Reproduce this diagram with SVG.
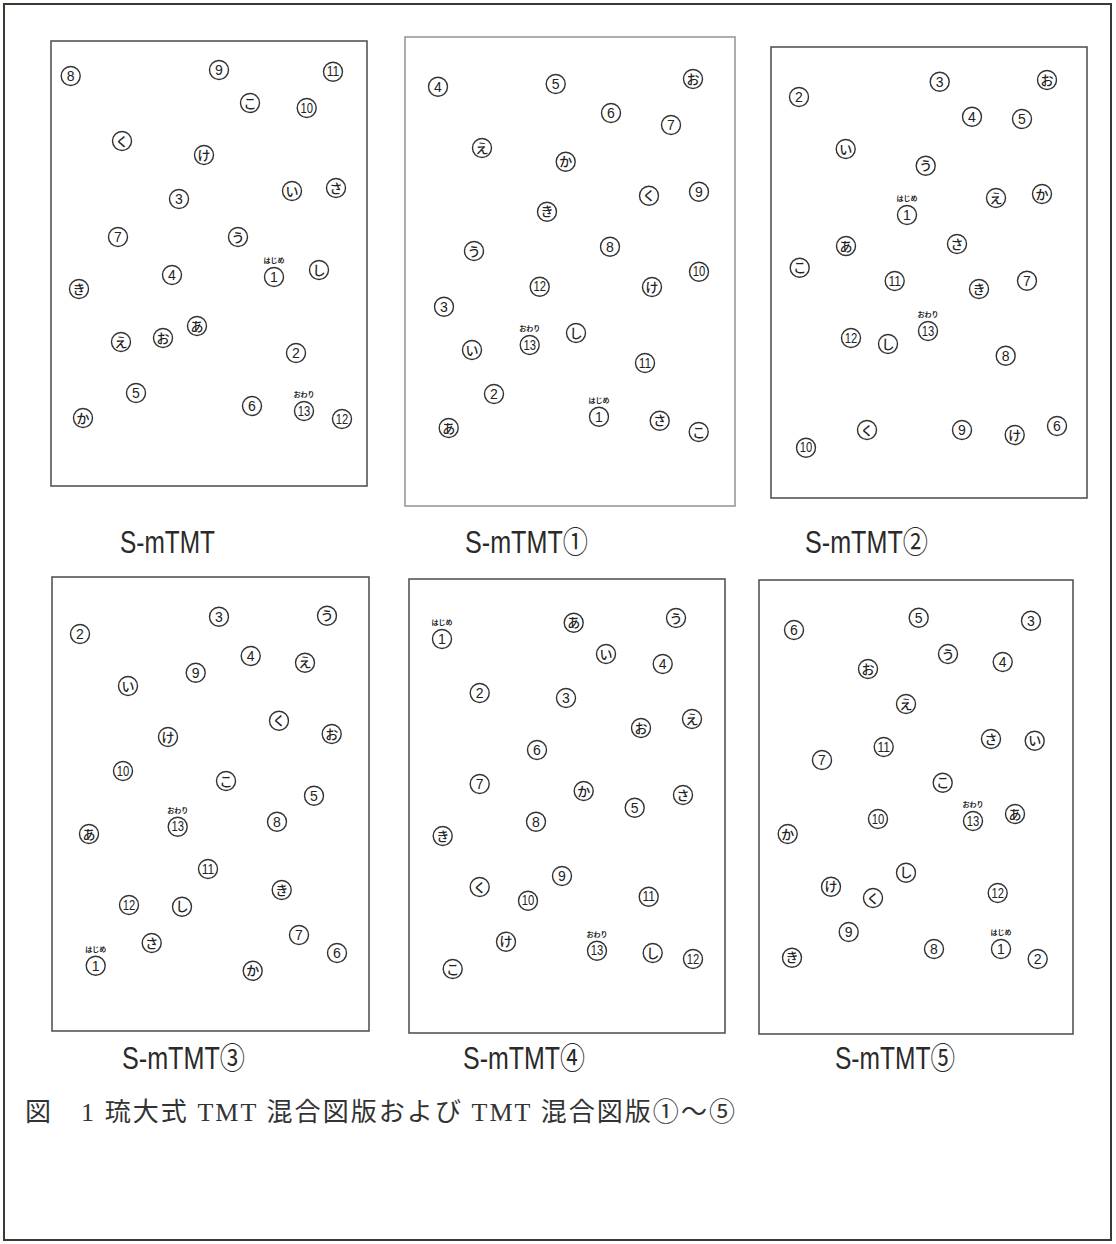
<svg xmlns="http://www.w3.org/2000/svg" width="1116" height="1244" viewBox="0 0 1116 1244">
<style>
.bg{fill:#ffffff}
.outer{fill:none;stroke:#3a3a32;stroke-width:2}
.frame{fill:#ffffff;stroke:#555555;stroke-width:1.6}
.frame.light{stroke:#9a9a9a}
.n circle{fill:#ffffff;stroke:#333333;stroke-width:1.4}
.n text{font-family:"Liberation Sans","Noto Sans CJK JP",sans-serif;font-size:14px;fill:#222222;text-anchor:middle}
.n text.k{font-family:"Noto Sans CJK JP",sans-serif;font-size:13px;font-weight:500}
.n text.s{font-family:"Noto Sans CJK JP",sans-serif;font-size:7px;font-weight:bold}
.lbl{font-family:"Liberation Sans","Noto Sans CJK JP",sans-serif;font-size:31px;fill:#2a2a2a}
.cap{font-family:"Liberation Serif","Noto Sans CJK JP",serif;font-size:26px;fill:#333333}
</style>
<rect class="bg" x="0" y="0" width="1116" height="1244"/>
<rect class="outer" x="4" y="4" width="1107" height="1236"/>

<g id="panel1">
<rect class="frame" x="51" y="41" width="316" height="445"/>
<g id="p1-8" class="n" transform="translate(70.7,76)"><circle r="9.5"/><text y="5">8</text></g>
<g id="p1-9" class="n" transform="translate(219,70)"><circle r="9.5"/><text y="5">9</text></g>
<g id="p1-11" class="n" transform="translate(333,71.7)"><circle r="9.5"/><text y="4.5" font-size="13" textLength="12.5" lengthAdjust="spacingAndGlyphs">11</text></g>
<g id="p1-ko" class="n" transform="translate(250,103)"><circle r="9.5"/><text class="k" y="4.7">こ</text></g>
<g id="p1-10" class="n" transform="translate(306.7,108)"><circle r="9.5"/><text y="4.5" font-size="13" textLength="12.5" lengthAdjust="spacingAndGlyphs">10</text></g>
<g id="p1-ku" class="n" transform="translate(122,141)"><circle r="9.5"/><text class="k" y="4.7">く</text></g>
<g id="p1-ke" class="n" transform="translate(204,155)"><circle r="9.5"/><text class="k" y="4.7">け</text></g>
<g id="p1-3" class="n" transform="translate(179,199)"><circle r="9.5"/><text y="5">3</text></g>
<g id="p1-i" class="n" transform="translate(292,191)"><circle r="9.5"/><text class="k" y="4.7">い</text></g>
<g id="p1-sa" class="n" transform="translate(336,188)"><circle r="9.5"/><text class="k" y="4.7">さ</text></g>
<g id="p1-7" class="n" transform="translate(118,237)"><circle r="9.5"/><text y="5">7</text></g>
<g id="p1-u" class="n" transform="translate(238,237)"><circle r="9.5"/><text class="k" y="4.7">う</text></g>
<g id="p1-4" class="n" transform="translate(172,275)"><circle r="9.5"/><text y="5">4</text></g>
<g id="p1-1" class="n" transform="translate(274,277)"><text class="s" y="-14">はじめ</text><circle r="9.5"/><text y="5">1</text></g>
<g id="p1-shi" class="n" transform="translate(319,270)"><circle r="9.5"/><text class="k" y="4.7">し</text></g>
<g id="p1-ki" class="n" transform="translate(79,289)"><circle r="9.5"/><text class="k" y="4.7">き</text></g>
<g id="p1-a" class="n" transform="translate(197,326)"><circle r="9.5"/><text class="k" y="4.7">あ</text></g>
<g id="p1-o" class="n" transform="translate(163,338)"><circle r="9.5"/><text class="k" y="4.7">お</text></g>
<g id="p1-e" class="n" transform="translate(121,342)"><circle r="9.5"/><text class="k" y="4.7">え</text></g>
<g id="p1-2" class="n" transform="translate(296,353)"><circle r="9.5"/><text y="5">2</text></g>
<g id="p1-5" class="n" transform="translate(136,393)"><circle r="9.5"/><text y="5">5</text></g>
<g id="p1-6" class="n" transform="translate(252,406)"><circle r="9.5"/><text y="5">6</text></g>
<g id="p1-13" class="n" transform="translate(304,411)"><text class="s" y="-14">おわり</text><circle r="9.5"/><text y="4.5" font-size="13" textLength="12.5" lengthAdjust="spacingAndGlyphs">13</text></g>
<g id="p1-12" class="n" transform="translate(342,419)"><circle r="9.5"/><text y="4.5" font-size="13" textLength="12.5" lengthAdjust="spacingAndGlyphs">12</text></g>
<g id="p1-ka" class="n" transform="translate(83,418)"><circle r="9.5"/><text class="k" y="4.7">か</text></g>
</g>

<g id="panel2">
<rect class="frame light" x="405" y="37" width="330" height="469"/>
<g id="p2-4" class="n" transform="translate(438,86.7)"><circle r="9.5"/><text y="5">4</text></g>
<g id="p2-5" class="n" transform="translate(555.7,84)"><circle r="9.5"/><text y="5">5</text></g>
<g id="p2-o" class="n" transform="translate(693,79)"><circle r="9.5"/><text class="k" y="4.7">お</text></g>
<g id="p2-6" class="n" transform="translate(611,113)"><circle r="9.5"/><text y="5">6</text></g>
<g id="p2-7" class="n" transform="translate(671,125)"><circle r="9.5"/><text y="5">7</text></g>
<g id="p2-e" class="n" transform="translate(482,148)"><circle r="9.5"/><text class="k" y="4.7">え</text></g>
<g id="p2-ka" class="n" transform="translate(565.7,161.7)"><circle r="9.5"/><text class="k" y="4.7">か</text></g>
<g id="p2-ku" class="n" transform="translate(649,195.7)"><circle r="9.5"/><text class="k" y="4.7">く</text></g>
<g id="p2-9" class="n" transform="translate(699,191.7)"><circle r="9.5"/><text y="5">9</text></g>
<g id="p2-ki" class="n" transform="translate(547,211.7)"><circle r="9.5"/><text class="k" y="4.7">き</text></g>
<g id="p2-u" class="n" transform="translate(474,251)"><circle r="9.5"/><text class="k" y="4.7">う</text></g>
<g id="p2-8" class="n" transform="translate(610,246.7)"><circle r="9.5"/><text y="5">8</text></g>
<g id="p2-10" class="n" transform="translate(699,271.7)"><circle r="9.5"/><text y="4.5" font-size="13" textLength="12.5" lengthAdjust="spacingAndGlyphs">10</text></g>
<g id="p2-12" class="n" transform="translate(539.7,286.7)"><circle r="9.5"/><text y="4.5" font-size="13" textLength="12.5" lengthAdjust="spacingAndGlyphs">12</text></g>
<g id="p2-ke" class="n" transform="translate(652,287)"><circle r="9.5"/><text class="k" y="4.7">け</text></g>
<g id="p2-3" class="n" transform="translate(444,306.7)"><circle r="9.5"/><text y="5">3</text></g>
<g id="p2-shi" class="n" transform="translate(576,333)"><circle r="9.5"/><text class="k" y="4.7">し</text></g>
<g id="p2-13" class="n" transform="translate(529.7,345)"><text class="s" y="-14">おわり</text><circle r="9.5"/><text y="4.5" font-size="13" textLength="12.5" lengthAdjust="spacingAndGlyphs">13</text></g>
<g id="p2-i" class="n" transform="translate(472,350)"><circle r="9.5"/><text class="k" y="4.7">い</text></g>
<g id="p2-11" class="n" transform="translate(645,363)"><circle r="9.5"/><text y="4.5" font-size="13" textLength="12.5" lengthAdjust="spacingAndGlyphs">11</text></g>
<g id="p2-2" class="n" transform="translate(494,394)"><circle r="9.5"/><text y="5">2</text></g>
<g id="p2-1" class="n" transform="translate(599,416.7)"><text class="s" y="-14">はじめ</text><circle r="9.5"/><text y="5">1</text></g>
<g id="p2-a" class="n" transform="translate(448.7,428)"><circle r="9.5"/><text class="k" y="4.7">あ</text></g>
<g id="p2-sa" class="n" transform="translate(659.7,420.7)"><circle r="9.5"/><text class="k" y="4.7">さ</text></g>
<g id="p2-ko" class="n" transform="translate(698.7,432)"><circle r="9.5"/><text class="k" y="4.7">こ</text></g>
</g>

<g id="panel3">
<rect class="frame" x="771" y="47" width="316" height="451"/>
<g id="p3-2" class="n" transform="translate(799,97)"><circle r="9.5"/><text y="5">2</text></g>
<g id="p3-3" class="n" transform="translate(939.7,81.7)"><circle r="9.5"/><text y="5">3</text></g>
<g id="p3-o" class="n" transform="translate(1047,80)"><circle r="9.5"/><text class="k" y="4.7">お</text></g>
<g id="p3-4" class="n" transform="translate(972,116.7)"><circle r="9.5"/><text y="5">4</text></g>
<g id="p3-5" class="n" transform="translate(1022,119)"><circle r="9.5"/><text y="5">5</text></g>
<g id="p3-i" class="n" transform="translate(845.7,149)"><circle r="9.5"/><text class="k" y="4.7">い</text></g>
<g id="p3-u" class="n" transform="translate(925.7,165.7)"><circle r="9.5"/><text class="k" y="4.7">う</text></g>
<g id="p3-1" class="n" transform="translate(907,215)"><text class="s" y="-14">はじめ</text><circle r="9.5"/><text y="5">1</text></g>
<g id="p3-e" class="n" transform="translate(996,198)"><circle r="9.5"/><text class="k" y="4.7">え</text></g>
<g id="p3-ka" class="n" transform="translate(1042,194)"><circle r="9.5"/><text class="k" y="4.7">か</text></g>
<g id="p3-a" class="n" transform="translate(846,246)"><circle r="9.5"/><text class="k" y="4.7">あ</text></g>
<g id="p3-sa" class="n" transform="translate(957,244)"><circle r="9.5"/><text class="k" y="4.7">さ</text></g>
<g id="p3-ko" class="n" transform="translate(799.7,267.7)"><circle r="9.5"/><text class="k" y="4.7">こ</text></g>
<g id="p3-11" class="n" transform="translate(894.7,281)"><circle r="9.5"/><text y="4.5" font-size="13" textLength="12.5" lengthAdjust="spacingAndGlyphs">11</text></g>
<g id="p3-ki" class="n" transform="translate(979,289)"><circle r="9.5"/><text class="k" y="4.7">き</text></g>
<g id="p3-7" class="n" transform="translate(1027,280.7)"><circle r="9.5"/><text y="5">7</text></g>
<g id="p3-13" class="n" transform="translate(928,331)"><text class="s" y="-14">おわり</text><circle r="9.5"/><text y="4.5" font-size="13" textLength="12.5" lengthAdjust="spacingAndGlyphs">13</text></g>
<g id="p3-12" class="n" transform="translate(851,338)"><circle r="9.5"/><text y="4.5" font-size="13" textLength="12.5" lengthAdjust="spacingAndGlyphs">12</text></g>
<g id="p3-shi" class="n" transform="translate(888,344)"><circle r="9.5"/><text class="k" y="4.7">し</text></g>
<g id="p3-8" class="n" transform="translate(1005.7,355.7)"><circle r="9.5"/><text y="5">8</text></g>
<g id="p3-ku" class="n" transform="translate(867,430)"><circle r="9.5"/><text class="k" y="4.7">く</text></g>
<g id="p3-9" class="n" transform="translate(962,430)"><circle r="9.5"/><text y="5">9</text></g>
<g id="p3-ke" class="n" transform="translate(1014.7,435)"><circle r="9.5"/><text class="k" y="4.7">け</text></g>
<g id="p3-6" class="n" transform="translate(1057,426)"><circle r="9.5"/><text y="5">6</text></g>
<g id="p3-10" class="n" transform="translate(806,447.7)"><circle r="9.5"/><text y="4.5" font-size="13" textLength="12.5" lengthAdjust="spacingAndGlyphs">10</text></g>
</g>

<g id="panel4">
<rect class="frame" x="52" y="577" width="317" height="454"/>
<g id="p4-2" class="n" transform="translate(80,634)"><circle r="9.5"/><text y="5">2</text></g>
<g id="p4-3" class="n" transform="translate(219,616.7)"><circle r="9.5"/><text y="5">3</text></g>
<g id="p4-u" class="n" transform="translate(327,615.7)"><circle r="9.5"/><text class="k" y="4.7">う</text></g>
<g id="p4-4" class="n" transform="translate(250.7,656)"><circle r="9.5"/><text y="5">4</text></g>
<g id="p4-e" class="n" transform="translate(305,662.7)"><circle r="9.5"/><text class="k" y="4.7">え</text></g>
<g id="p4-9" class="n" transform="translate(195.7,672.7)"><circle r="9.5"/><text y="5">9</text></g>
<g id="p4-i" class="n" transform="translate(128,686)"><circle r="9.5"/><text class="k" y="4.7">い</text></g>
<g id="p4-ku" class="n" transform="translate(279,720.7)"><circle r="9.5"/><text class="k" y="4.7">く</text></g>
<g id="p4-o" class="n" transform="translate(331.7,734)"><circle r="9.5"/><text class="k" y="4.7">お</text></g>
<g id="p4-ke" class="n" transform="translate(168,737)"><circle r="9.5"/><text class="k" y="4.7">け</text></g>
<g id="p4-10" class="n" transform="translate(123,771)"><circle r="9.5"/><text y="4.5" font-size="13" textLength="12.5" lengthAdjust="spacingAndGlyphs">10</text></g>
<g id="p4-ko" class="n" transform="translate(226,781)"><circle r="9.5"/><text class="k" y="4.7">こ</text></g>
<g id="p4-5" class="n" transform="translate(314,795.7)"><circle r="9.5"/><text y="5">5</text></g>
<g id="p4-13" class="n" transform="translate(177.7,826.7)"><text class="s" y="-14">おわり</text><circle r="9.5"/><text y="4.5" font-size="13" textLength="12.5" lengthAdjust="spacingAndGlyphs">13</text></g>
<g id="p4-8" class="n" transform="translate(277,821.7)"><circle r="9.5"/><text y="5">8</text></g>
<g id="p4-a" class="n" transform="translate(89,834)"><circle r="9.5"/><text class="k" y="4.7">あ</text></g>
<g id="p4-11" class="n" transform="translate(208,869)"><circle r="9.5"/><text y="4.5" font-size="13" textLength="12.5" lengthAdjust="spacingAndGlyphs">11</text></g>
<g id="p4-ki" class="n" transform="translate(281.7,890)"><circle r="9.5"/><text class="k" y="4.7">き</text></g>
<g id="p4-12" class="n" transform="translate(129,905)"><circle r="9.5"/><text y="4.5" font-size="13" textLength="12.5" lengthAdjust="spacingAndGlyphs">12</text></g>
<g id="p4-shi" class="n" transform="translate(182,906.7)"><circle r="9.5"/><text class="k" y="4.7">し</text></g>
<g id="p4-7" class="n" transform="translate(299,935)"><circle r="9.5"/><text y="5">7</text></g>
<g id="p4-sa" class="n" transform="translate(151.7,943)"><circle r="9.5"/><text class="k" y="4.7">さ</text></g>
<g id="p4-1" class="n" transform="translate(95.7,965.7)"><text class="s" y="-14">はじめ</text><circle r="9.5"/><text y="5">1</text></g>
<g id="p4-6" class="n" transform="translate(337,953)"><circle r="9.5"/><text y="5">6</text></g>
<g id="p4-ka" class="n" transform="translate(252.7,970.7)"><circle r="9.5"/><text class="k" y="4.7">か</text></g>
</g>

<g id="panel5">
<rect class="frame" x="409" y="579" width="316" height="454"/>
<g id="p5-1" class="n" transform="translate(442,639)"><text class="s" y="-14">はじめ</text><circle r="9.5"/><text y="5">1</text></g>
<g id="p5-a" class="n" transform="translate(573.7,622.7)"><circle r="9.5"/><text class="k" y="4.7">あ</text></g>
<g id="p5-u" class="n" transform="translate(676,618)"><circle r="9.5"/><text class="k" y="4.7">う</text></g>
<g id="p5-i" class="n" transform="translate(606,654)"><circle r="9.5"/><text class="k" y="4.7">い</text></g>
<g id="p5-4" class="n" transform="translate(662.7,664)"><circle r="9.5"/><text y="5">4</text></g>
<g id="p5-2" class="n" transform="translate(479.7,693)"><circle r="9.5"/><text y="5">2</text></g>
<g id="p5-3" class="n" transform="translate(566,698)"><circle r="9.5"/><text y="5">3</text></g>
<g id="p5-e" class="n" transform="translate(692,719)"><circle r="9.5"/><text class="k" y="4.7">え</text></g>
<g id="p5-o" class="n" transform="translate(641,728)"><circle r="9.5"/><text class="k" y="4.7">お</text></g>
<g id="p5-6" class="n" transform="translate(537,750)"><circle r="9.5"/><text y="5">6</text></g>
<g id="p5-7" class="n" transform="translate(479.7,784)"><circle r="9.5"/><text y="5">7</text></g>
<g id="p5-ka" class="n" transform="translate(583.7,791)"><circle r="9.5"/><text class="k" y="4.7">か</text></g>
<g id="p5-5" class="n" transform="translate(634.7,807.7)"><circle r="9.5"/><text y="5">5</text></g>
<g id="p5-sa" class="n" transform="translate(683,795)"><circle r="9.5"/><text class="k" y="4.7">さ</text></g>
<g id="p5-8" class="n" transform="translate(536,821.7)"><circle r="9.5"/><text y="5">8</text></g>
<g id="p5-ki" class="n" transform="translate(442.7,836)"><circle r="9.5"/><text class="k" y="4.7">き</text></g>
<g id="p5-9" class="n" transform="translate(562,876)"><circle r="9.5"/><text y="5">9</text></g>
<g id="p5-ku" class="n" transform="translate(479.7,887)"><circle r="9.5"/><text class="k" y="4.7">く</text></g>
<g id="p5-10" class="n" transform="translate(528,900.7)"><circle r="9.5"/><text y="4.5" font-size="13" textLength="12.5" lengthAdjust="spacingAndGlyphs">10</text></g>
<g id="p5-11" class="n" transform="translate(648.7,896.7)"><circle r="9.5"/><text y="4.5" font-size="13" textLength="12.5" lengthAdjust="spacingAndGlyphs">11</text></g>
<g id="p5-ke" class="n" transform="translate(506,941.7)"><circle r="9.5"/><text class="k" y="4.7">け</text></g>
<g id="p5-13" class="n" transform="translate(597,950.7)"><text class="s" y="-14">おわり</text><circle r="9.5"/><text y="4.5" font-size="13" textLength="12.5" lengthAdjust="spacingAndGlyphs">13</text></g>
<g id="p5-shi" class="n" transform="translate(652.7,953)"><circle r="9.5"/><text class="k" y="4.7">し</text></g>
<g id="p5-12" class="n" transform="translate(693,959)"><circle r="9.5"/><text y="4.5" font-size="13" textLength="12.5" lengthAdjust="spacingAndGlyphs">12</text></g>
<g id="p5-ko" class="n" transform="translate(452.7,969)"><circle r="9.5"/><text class="k" y="4.7">こ</text></g>
</g>

<g id="panel6">
<rect class="frame" x="759" y="580" width="314" height="454"/>
<g id="p6-6" class="n" transform="translate(794,630)"><circle r="9.5"/><text y="5">6</text></g>
<g id="p6-5" class="n" transform="translate(918.7,617.7)"><circle r="9.5"/><text y="5">5</text></g>
<g id="p6-3" class="n" transform="translate(1031,620.7)"><circle r="9.5"/><text y="5">3</text></g>
<g id="p6-u" class="n" transform="translate(948,654)"><circle r="9.5"/><text class="k" y="4.7">う</text></g>
<g id="p6-4" class="n" transform="translate(1002.7,662)"><circle r="9.5"/><text y="5">4</text></g>
<g id="p6-o" class="n" transform="translate(868,669)"><circle r="9.5"/><text class="k" y="4.7">お</text></g>
<g id="p6-e" class="n" transform="translate(906,704)"><circle r="9.5"/><text class="k" y="4.7">え</text></g>
<g id="p6-sa" class="n" transform="translate(991,739)"><circle r="9.5"/><text class="k" y="4.7">さ</text></g>
<g id="p6-i" class="n" transform="translate(1034.7,740.7)"><circle r="9.5"/><text class="k" y="4.7">い</text></g>
<g id="p6-11" class="n" transform="translate(883.7,747)"><circle r="9.5"/><text y="4.5" font-size="13" textLength="12.5" lengthAdjust="spacingAndGlyphs">11</text></g>
<g id="p6-7" class="n" transform="translate(822,760)"><circle r="9.5"/><text y="5">7</text></g>
<g id="p6-ko" class="n" transform="translate(942.7,782.7)"><circle r="9.5"/><text class="k" y="4.7">こ</text></g>
<g id="p6-13" class="n" transform="translate(973,821)"><text class="s" y="-14">おわり</text><circle r="9.5"/><text y="4.5" font-size="13" textLength="12.5" lengthAdjust="spacingAndGlyphs">13</text></g>
<g id="p6-a" class="n" transform="translate(1015,814)"><circle r="9.5"/><text class="k" y="4.7">あ</text></g>
<g id="p6-10" class="n" transform="translate(878,819)"><circle r="9.5"/><text y="4.5" font-size="13" textLength="12.5" lengthAdjust="spacingAndGlyphs">10</text></g>
<g id="p6-ka" class="n" transform="translate(787.7,834)"><circle r="9.5"/><text class="k" y="4.7">か</text></g>
<g id="p6-shi" class="n" transform="translate(906,872.7)"><circle r="9.5"/><text class="k" y="4.7">し</text></g>
<g id="p6-ke" class="n" transform="translate(831,886.7)"><circle r="9.5"/><text class="k" y="4.7">け</text></g>
<g id="p6-12" class="n" transform="translate(997.7,893)"><circle r="9.5"/><text y="4.5" font-size="13" textLength="12.5" lengthAdjust="spacingAndGlyphs">12</text></g>
<g id="p6-ku" class="n" transform="translate(873,898)"><circle r="9.5"/><text class="k" y="4.7">く</text></g>
<g id="p6-9" class="n" transform="translate(848.7,932)"><circle r="9.5"/><text y="5">9</text></g>
<g id="p6-1" class="n" transform="translate(1001,949)"><text class="s" y="-14">はじめ</text><circle r="9.5"/><text y="5">1</text></g>
<g id="p6-8" class="n" transform="translate(934,949)"><circle r="9.5"/><text y="5">8</text></g>
<g id="p6-2" class="n" transform="translate(1037.7,959)"><circle r="9.5"/><text y="5">2</text></g>
<g id="p6-ki" class="n" transform="translate(792,957.7)"><circle r="9.5"/><text class="k" y="4.7">き</text></g>
</g>

<g id="connectors"></g>

<g id="labels">
<text class="lbl" x="120" y="553" textLength="95" lengthAdjust="spacingAndGlyphs">S-mTMT</text>
<text class="lbl" x="465" y="553" textLength="123" lengthAdjust="spacingAndGlyphs">S-mTMT①</text>
<text class="lbl" x="805" y="553" textLength="123" lengthAdjust="spacingAndGlyphs">S-mTMT②</text>
<text class="lbl" x="122" y="1069" textLength="123" lengthAdjust="spacingAndGlyphs">S-mTMT③</text>
<text class="lbl" x="463" y="1069" textLength="122" lengthAdjust="spacingAndGlyphs">S-mTMT④</text>
<text class="lbl" x="835" y="1069" textLength="120" lengthAdjust="spacingAndGlyphs">S-mTMT⑤</text>
</g>

<text id="caption" class="cap" x="25" y="1121" textLength="710" lengthAdjust="spacing">図　1 琉大式 TMT 混合図版および TMT 混合図版①～⑤</text>
</svg>
